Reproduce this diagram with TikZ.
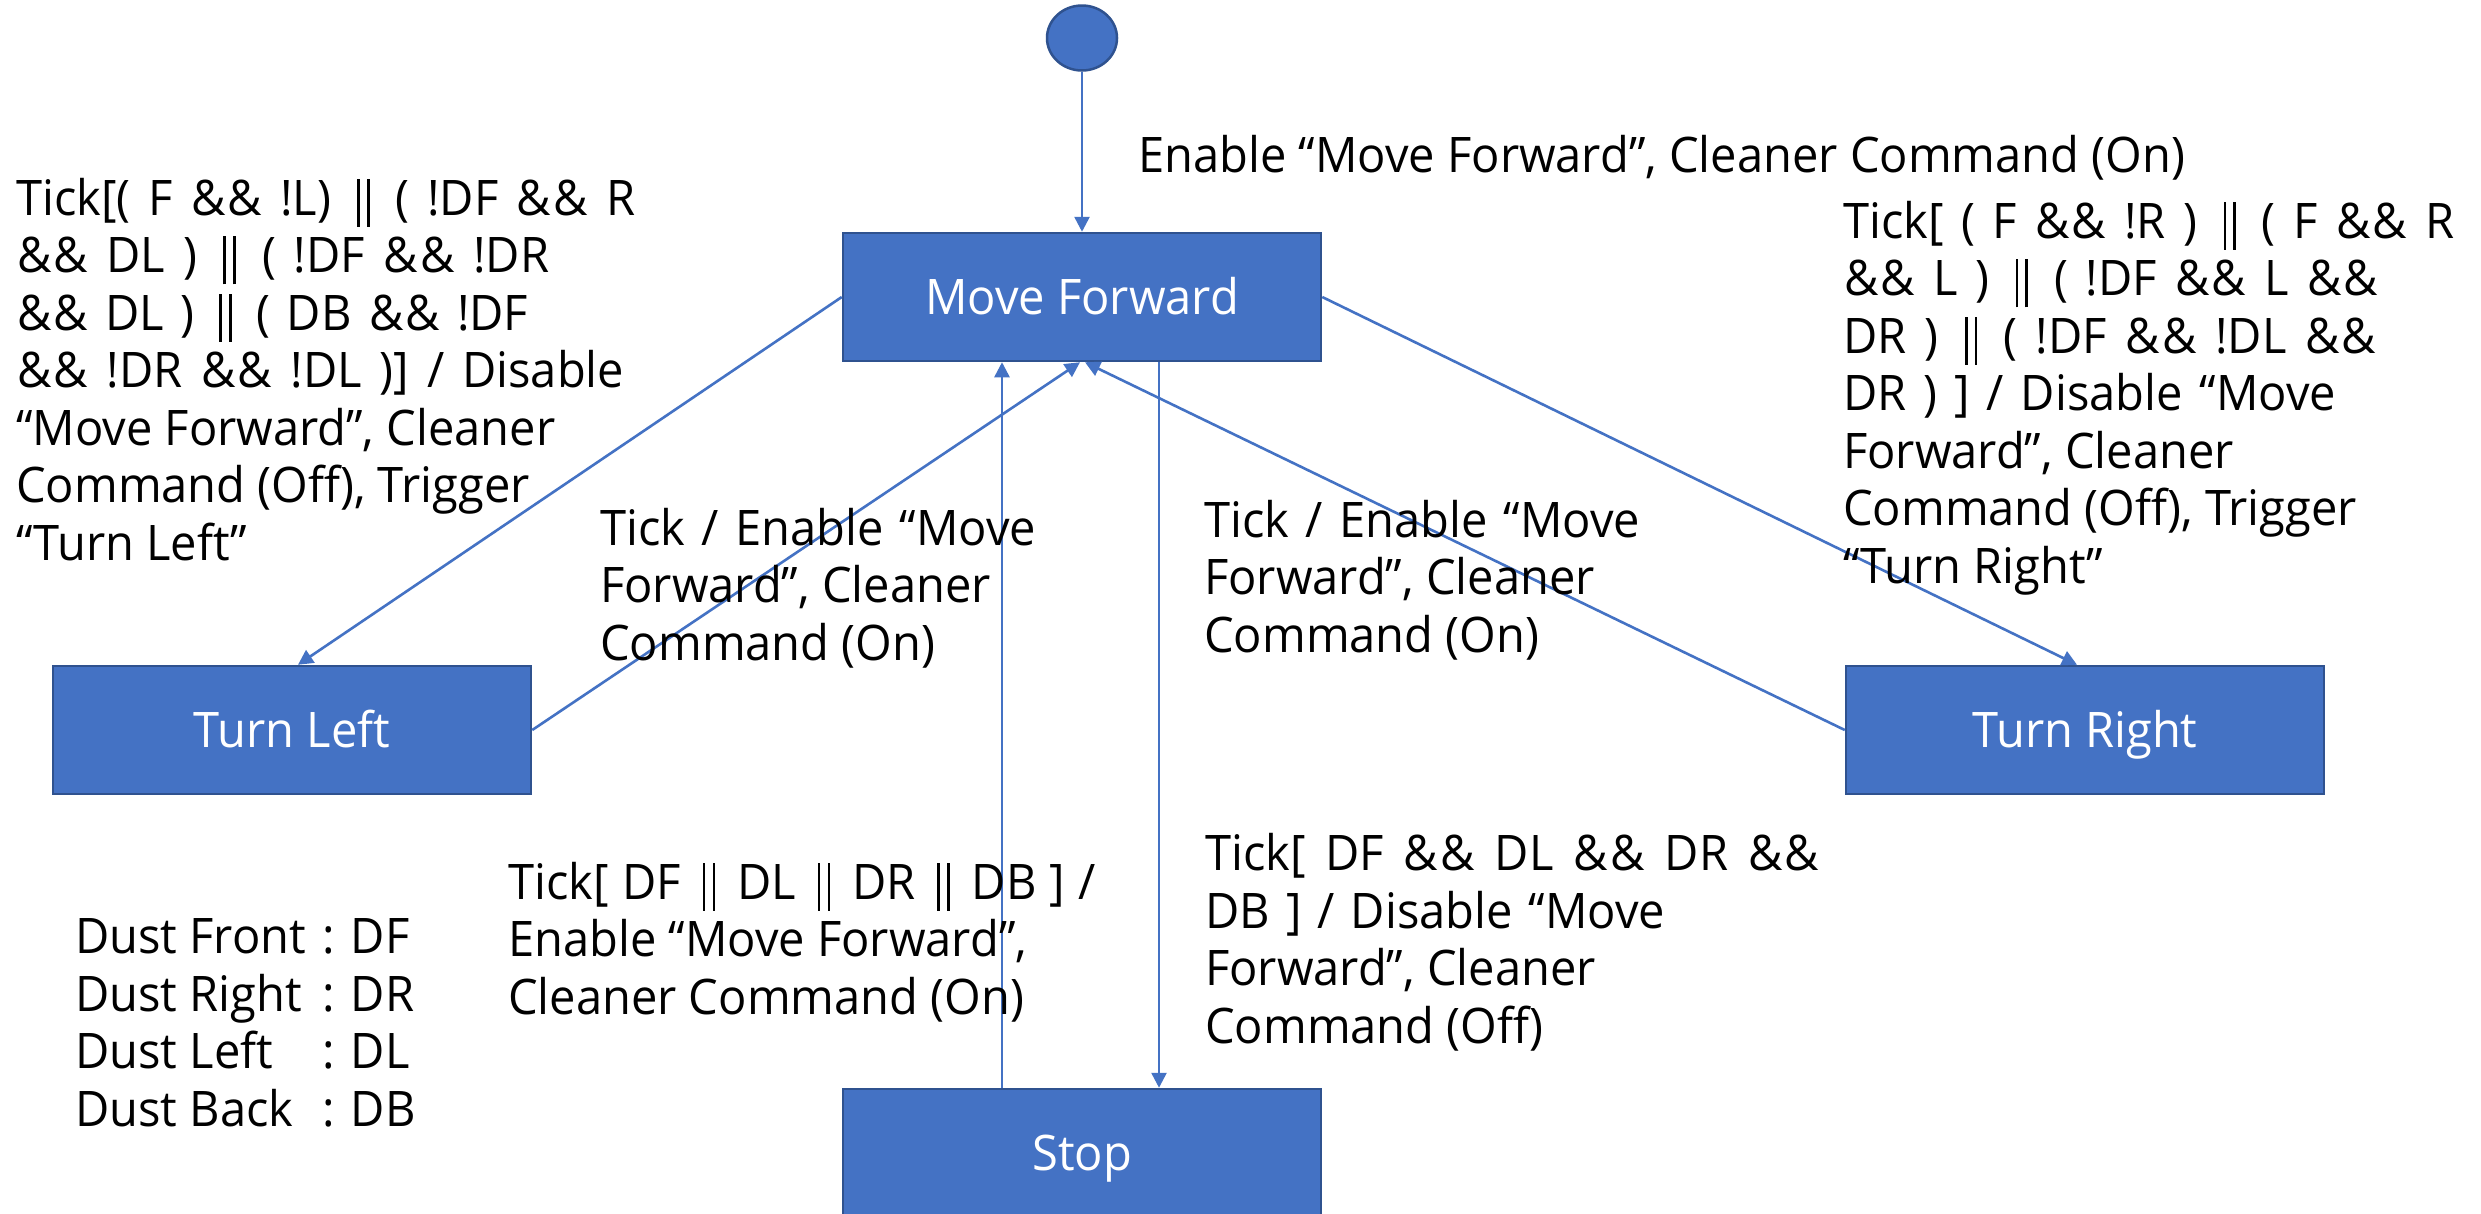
\documentclass[tikz,border=0pt]{standalone}
\usepackage{fontspec}
\setmainfont{Open Sans}[FakeStretch=0.96]
\usetikzlibrary{arrows.meta,shapes.geometric}
\definecolor{boxblue}{HTML}{4472C4}
\definecolor{boxedge}{HTML}{2F528F}
\newcommand\lblfont{\fontsize{49}{57.5}\selectfont}
\newcommand\oor{\hbox to 0.6em{\hss\rule[-0.24em]{0.05em}{0.98em}\kern0.15em\rule[-0.24em]{0.05em}{0.98em}\hss}}
\newcommand\amp{\hbox to 0.74em{\hss\&\hss}}
\newcommand\fitline[2]{\makebox[#1pt][s]{#2}}
\begin{document}
\begin{tikzpicture}[x=1pt,y=-1pt,
  state/.style={draw=boxedge, line width=2.5pt, fill=boxblue, minimum width=478pt, minimum height=128pt, text=white, font=\lblfont, inner sep=0pt, text height=35pt, text depth=0pt},
  initst/.style={ellipse, draw=boxedge, line width=2.5pt, fill=boxblue, minimum width=70pt, minimum height=65pt, inner sep=0pt},
  lbl/.style={anchor=base west, align=left, inner sep=0pt, font=\lblfont},
  conn/.style={draw=boxblue, line width=2.6pt, -{Triangle[length=15pt,width=15pt]}}]
\useasboundingbox (0,0) rectangle (2481,1213);
\fill[white] (0,0) rectangle (2481,1213);

\node[initst] (init) at (1082,38) {};
\node[state] (mf) at (1082,297) {Move Forward};
\node[state] (tl) at (292,730) {Turn Left};
\node[state] (tr) at (2085,730) {Turn Right};
\node[state] (stop) at (1082,1153) {Stop};

\draw[conn] (init) -- (mf);
\draw[conn] (mf.west) -- ([xshift=6pt]tl.north);
\draw[conn] (tl.east) -- ([xshift=-2pt]mf.south);
\draw[conn] (tr.west) -- ([xshift=3pt]mf.south);
\draw[conn] (mf.east) -- ([xshift=-8pt]tr.north);
\draw[conn] ([xshift=-80pt]stop.north) -- ([xshift=-80pt]mf.south);
\draw[conn] ([xshift=77pt]mf.south) -- ([xshift=77pt]stop.north);

% base anchor = baseline of the last line
\node[lbl] (la) at (1138,172) {Enable “Move Forward”, Cleaner Command (On)};
\node[lbl] (lb) at (16,560) {\fitline{619}{Tick[( F \amp\amp{} !L) \oor{} ( !DF \amp\amp{} R}\\\fitline{533}{\amp\amp{} DL ) \oor{} ( !DF \amp\amp{} !DR}\\\fitline{512}{\amp\amp{} DL ) \oor{} ( DB \amp\amp{} !DF}\\\fitline{608}{\amp\amp{} !DR \amp\amp{} !DL )] / Disable}\\“Move Forward”, Cleaner\\Command (Off), Trigger\\“Turn Left”};
\node[lbl] (lc) at (1843,583) {\fitline{611}{Tick[ ( F \amp\amp{} !R ) \oor{} ( F \amp\amp{} R}\\\fitline{536}{\amp\amp{} L ) \oor{} ( !DF \amp\amp{} L \amp\amp}\\\fitline{534}{DR ) \oor{} ( !DF \amp\amp{} !DL \amp\amp}\\\fitline{493}{DR ) ] / Disable “Move}\\Forward”, Cleaner\\Command (Off), Trigger\\“Turn Right”};
\node[lbl] (ld) at (600,660) {\fitline{436}{Tick / Enable “Move}\\Forward”, Cleaner\\Command (On)};
\node[lbl] (le) at (1204,652) {\fitline{436}{Tick / Enable “Move}\\Forward”, Cleaner\\Command (On)};
\node[lbl] (lf) at (508,1014) {\fitline{588}{Tick[ DF \oor{} DL \oor{} DR \oor{} DB ] /}\\Enable “Move Forward”,\\Cleaner Command (On)};
\node[lbl] (lg) at (1205,1043) {\fitline{615}{Tick[ DF \amp\amp{} DL \amp\amp{} DR \amp\amp}\\\fitline{460}{DB ] / Disable “Move}\\Forward”, Cleaner\\Command (Off)};
\node[lbl] (lh) at (75,1126) {\makebox[247pt][l]{Dust Front}: DF\\\makebox[247pt][l]{Dust Right}: DR\\\makebox[247pt][l]{Dust Left}: DL\\\makebox[247pt][l]{Dust Back}: DB};
\end{tikzpicture}
\end{document}
